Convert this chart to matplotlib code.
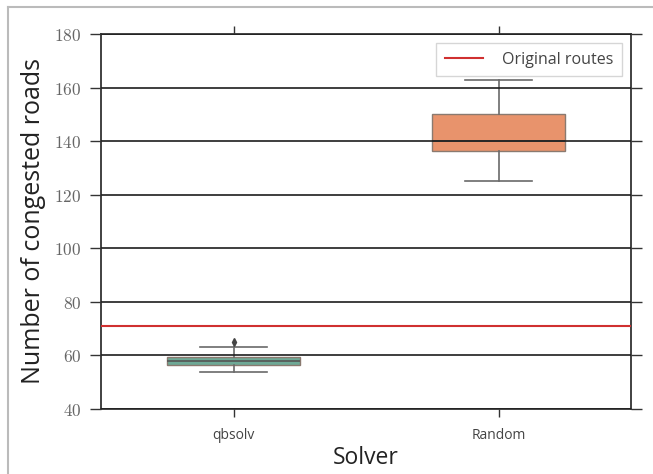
import matplotlib
matplotlib.use("Agg")
import matplotlib.pyplot as plt
from matplotlib.lines import Line2D

solvers = ["qbsolv", "Random"]
q1 = [56.5, 136.5]
q3 = [59.5, 150.0]
medians = [58.0, 140.0]
whisker_low = [54.0, 125.0]
whisker_high = [63.0, 163.0]
fliers = [[65.0], []]
original_routes = 71.0
y_ticks = [40, 60, 80, 100, 120, 140, 160, 180]
box_colors = ["#6ea996", "#e8936c"]

plt.rcParams['mathtext.fontset'] = 'cm'

fig = plt.figure(figsize=(6.53, 4.74), dpi=100)
ax = fig.add_axes([101/653, 1-409/474, 530/653, 375/474])

stats = []
for i in range(len(solvers)):
    stats.append(dict(label=solvers[i], med=medians[i], q1=q1[i], q3=q3[i],
                      whislo=whisker_low[i], whishi=whisker_high[i], fliers=fliers[i]))

edge = "#6a6a6a"
bp = ax.bxp(stats, positions=range(len(solvers)), widths=0.5, patch_artist=True,
            boxprops=dict(edgecolor="#8a7a70", linewidth=1.0),
            whiskerprops=dict(color=edge, linewidth=1.2),
            capprops=dict(color=edge, linewidth=1.2),
            medianprops=dict(color="#555555", linewidth=1.2),
            flierprops=dict(marker='d', markerfacecolor="#444444", markeredgecolor="#444444", markersize=4))
for patch, c in zip(bp['boxes'], box_colors):
    patch.set_facecolor(c)

ax.axhline(original_routes, color="#d03030", linewidth=1.5, label="Original routes", zorder=5)

ax.set_xlim(-0.5, 1.5)
ax.set_ylim(40, 180)
ax.set_yticks(y_ticks)
ax.set_yticklabels([r"$%d$" % v for v in y_ticks], fontsize=12.5, color="#666666")
ax.set_xticks(range(len(solvers)))
ax.set_xticklabels(solvers, fontsize=10, color="#444444", family="Open Sans")

ax.yaxis.grid(True, color="#1e1e1e", linewidth=1.2)
ax.set_axisbelow(False)
for s in ax.spines.values():
    s.set_color("#333333")
    s.set_linewidth(1.3)

ax.tick_params(axis='y', which='both', left=True, right=True, direction='out', length=8,
               color="#333333", width=1.0, pad=6)
ax.tick_params(axis='x', which='both', bottom=True, top=True, direction='out', length=6,
               color="#333333", width=1.0, pad=8)

ax.set_xlabel("Solver", fontsize=16.5, family="Open Sans", color="#222222", labelpad=2)
ax.set_ylabel("Number of congested roads", fontsize=18, family="Open Sans", color="#222222", labelpad=6)

leg = ax.legend(loc="upper right", prop=dict(family="Open Sans", size=11.5), frameon=True,
                fancybox=False, borderpad=0.55, handlelength=2.4, handletextpad=1.2,
                borderaxespad=0.55)
leg.get_frame().set_edgecolor("#cccccc")
leg.get_frame().set_linewidth(1.0)
for t in leg.get_texts():
    t.set_color("#444444")

# outer frame of the screenshot
fig.add_artist(Line2D([8/653, 1.0], [1-7/474, 1-7/474], color="#bbbbbb", linewidth=1.5, transform=fig.transFigure))
fig.add_artist(Line2D([8/653, 8/653], [0.0, 1-7/474], color="#bbbbbb", linewidth=1.5, transform=fig.transFigure))

fig.savefig("out.png", dpi=100)
